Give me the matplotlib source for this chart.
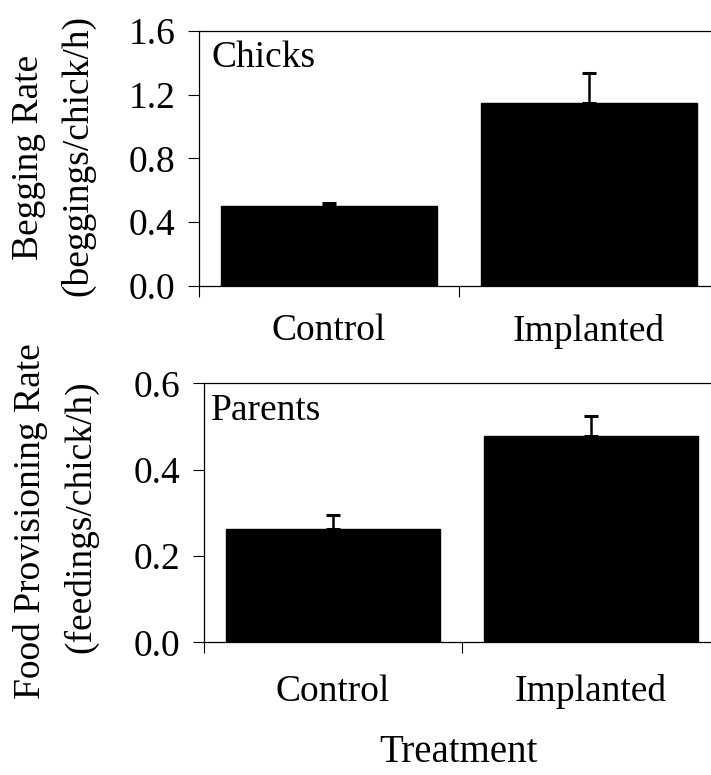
import numpy as np
import matplotlib
matplotlib.use("Agg")
import matplotlib.pyplot as plt

# Data
groups = ["Control", "Implanted"]
begging_mean = [0.50, 1.15]
begging_se = [0.02, 0.185]
feeding_mean = [0.262, 0.478]
feeding_se = [0.034, 0.047]

plt.rcParams['font.family'] = ['Liberation Serif', 'DejaVu Serif']
FS = 27

fig = plt.figure(figsize=(7.11, 7.75), dpi=100)

def panel(rect, means, ses, ymax, yticks, tag, tag_x, xpad):
    ax = fig.add_axes(rect)
    x = np.arange(len(means)) + 0.5
    ax.bar(x, means, width=0.83, color='black', edgecolor='black')
    ax.errorbar(x, means, yerr=[np.zeros(len(ses)), ses], fmt='none',
                ecolor='black', elinewidth=1.8, capsize=5, capthick=2.2)
    ax.set_xlim(0, 2)
    ax.set_ylim(0, ymax)
    ax.set_yticks(yticks)
    ax.set_yticklabels([f"{t:.1f}" for t in yticks])
    ax.set_xticks([0, 1, 2])
    ax.set_xticklabels([])
    ax.set_xticks(x, minor=True)
    ax.set_xticklabels(groups, minor=True)
    ax.tick_params(axis='y', direction='out', length=8, width=0.8, pad=9, labelsize=FS)
    ax.tick_params(axis='x', which='major', direction='out', length=8, width=0.8)
    ax.tick_params(axis='x', which='minor', length=0, pad=xpad, labelsize=FS)
    for s in ax.spines.values():
        s.set_linewidth(0.9)
    ax.text(tag_x, 0.86, tag, transform=ax.transAxes, fontsize=FS, va='baseline', ha='left')
    return ax

ax1 = panel([0.2799, 0.6310, 0.7314, 0.329], begging_mean, begging_se, 1.6,
            [0.0, 0.4, 0.8, 1.2, 1.6], "Chicks", 0.024, 20)
ax2 = panel([0.2869, 0.1712, 0.7257, 0.3342], feeding_mean, feeding_se, 0.6,
            [0.0, 0.2, 0.4, 0.6], "Parents", 0.014, 23)

fig.text(29/711, 1-157/775, "Begging Rate", rotation=90, fontsize=FS, ha='center', va='center')
fig.text(78/711, 1-156/775, "(beggings/chick/h)", rotation=90, fontsize=FS, ha='center', va='center')
fig.text(31/711, 1-521/775, "Food Provisioning Rate", rotation=90, fontsize=FS, ha='center', va='center')
fig.text(81/711, 1-517/775, "(feedings/chick/h)", rotation=90, fontsize=FS, ha='center', va='center')
fig.text(458/711, 1-753/775, "Treatment", fontsize=28, ha='center', va='center')

fig.savefig("out.png", dpi=100)
